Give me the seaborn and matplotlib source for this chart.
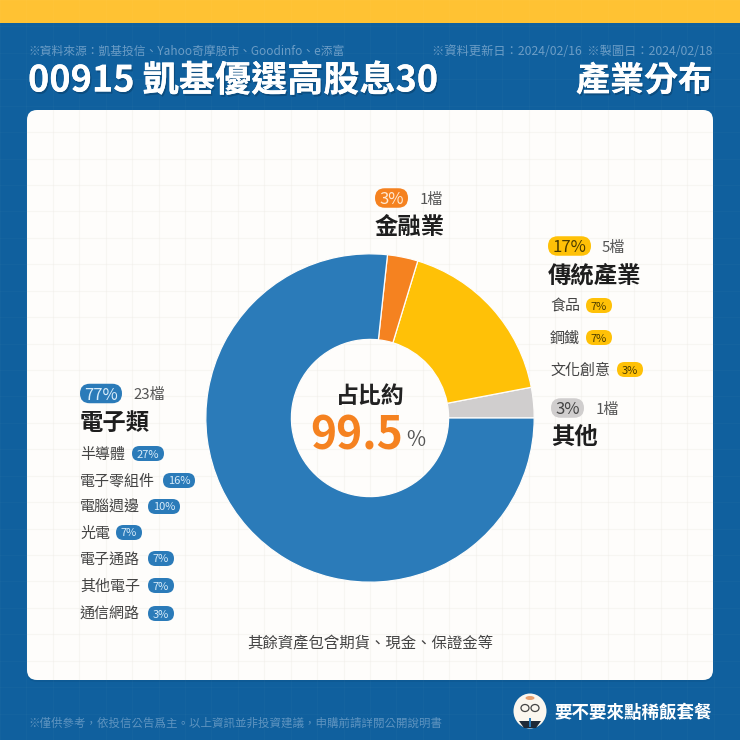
import matplotlib
matplotlib.use("Agg")
import matplotlib.patheffects as pe
import matplotlib.pyplot as plt
import numpy as np
import seaborn as sns
from matplotlib.patches import Ellipse, FancyBboxPatch, Polygon, Rectangle

# data
sectors = ["其他", "傳統產業", "金融業", "電子類"]
sector_values = [3, 17.3, 3, 76.7]
sector_colors = ["#D0CECE", "#FFC107", "#F58220", "#2B7BB9"]

electronics_names = ["半導體", "電子零組件", "電腦週邊", "光電", "電子通路", "其他電子", "通信網路"]
electronics_pcts = ["27%", "16%", "10%", "7%", "7%", "7%", "3%"]
traditional_names = ["食品", "鋼鐵", "文化創意"]
traditional_pcts = ["7%", "7%", "3%"]

source_text = "※資料來源：凱基投信、Yahoo奇摩股市、Goodinfo、e添富"
date_text = "※資料更新日：2024/02/16  ※製圖日：2024/02/18"
title_left = "00915 凱基優選高股息30"
title_right = "產業分布"
note_text = "其餘資產包含期貨、現金、保證金等"
footer_text = "※僅供參考，依投信公告爲主。以上資訊並非投資建議，申購前請詳閱公開說明書"
brand_text = "要不要來點稀飯套餐"

BLUE_BG = "#10609E"
YELLOW_TOP = "#FFC233"
CARD = "#FEFDFB"
GREY = "#555555"
FADED = "#6C9DC6"

sns.set_theme(style="white")
plt.rcParams["font.family"] = ["Noto Sans CJK TC", "DejaVu Sans"]

fig = plt.figure(figsize=(7.4, 7.4), dpi=100, facecolor=BLUE_BG)


def pixel_axes(zorder):
    ax = fig.add_axes([0, 0, 1, 1], zorder=zorder)
    ax.set_xlim(0, 740)
    ax.set_ylim(740, 0)
    ax.axis("off")
    return ax


def pill(ax, left, right, y, height, color):
    r = height / 2
    ax.add_patch(FancyBboxPatch((left + r, y), right - left - 2 * r, 0.001,
                                boxstyle=f"round,pad={r},rounding_size={r}", fc=color, ec="none"))


def head(ax, x, y, pct, count, title, color, pct_color, pill_right, count_x):
    pill(ax, x, pill_right, y, 19.5, color)
    ax.text((x + pill_right) / 2, y, pct, color=pct_color, fontsize=12, ha="center", va="center_baseline")
    ax.text(count_x, y, count, color=GREY, fontsize=10.8, ha="left", va="center_baseline")
    ax.text(x, y + 26.5, title, color="#1E1E1E", fontsize=16.8, fontweight="bold", ha="left", va="center_baseline")


def sub_row(ax, x, y, name, pct, pill_left, color, text_color):
    ax.text(x, y, name, color="#444444", fontsize=10.8, ha="left", va="center_baseline")
    width = 32 if len(pct) == 3 else 26
    pill(ax, pill_left, pill_left + width, y + 0.5, 15, color)
    ax.text(pill_left + width / 2, y + 0.5, pct, color=text_color, fontsize=8, ha="center", va="center_baseline")


# background and card
back = pixel_axes(0)
back.add_patch(Rectangle((0, 0), 740, 740, fc=BLUE_BG, ec="none"))
grid_steps = np.arange(0, 740, 26.43)
for step in grid_steps:
    back.plot([step, step], [0, 740], color="#FFFFFF", alpha=0.02, lw=0.8)
    back.plot([0, 740], [step, step], color="#FFFFFF", alpha=0.02, lw=0.8)
back.add_patch(Rectangle((0, 0), 740, 23, fc=YELLOW_TOP, ec="none"))
back.add_patch(FancyBboxPatch((37, 122), 666, 550, boxstyle="round,pad=10,rounding_size=10",
                              fc="#0B4F85", ec="none", alpha=0.35))
card = FancyBboxPatch((37, 120), 666, 550, boxstyle="round,pad=10,rounding_size=10", fc=CARD, ec="none")
back.add_patch(card)
for step in grid_steps:
    line_v = back.plot([step, step], [110, 680], color="#ECE9E4", alpha=0.35, lw=0.9)[0]
    line_h = back.plot([27, 713], [step, step], color="#ECE9E4", alpha=0.35, lw=0.9)[0]
    line_v.set_clip_path(card)
    line_h.set_clip_path(card)

# donut
pie_ax = fig.add_axes([205 / 740, 1 - 583 / 740, 330 / 740, 330 / 740], zorder=1)
pie_ax.pie(sector_values, colors=sns.color_palette(sector_colors), startangle=0, counterclock=True,
           wedgeprops=dict(width=86 / 165, edgecolor=CARD, linewidth=0.9), radius=1)
pie_ax.set_xlim(-1.005, 1.005)
pie_ax.set_ylim(-1.005, 1.005)

# all the text on top
ax = pixel_axes(2)
ax.text(28, 50, source_text, color=FADED, fontsize=8.5, ha="left", va="center_baseline")
ax.text(712, 50, date_text, color=FADED, fontsize=8.8, ha="right", va="center_baseline")

shadow = [pe.withSimplePatchShadow(offset=(1, -1.5), shadow_rgbFace="#08365C", alpha=0.45), pe.Normal()]
ax.text(28, 77, title_left, color="white", fontsize=26, fontweight="bold", ha="left", va="center_baseline",
        path_effects=shadow)
ax.text(712, 77, title_right, color="white", fontsize=24.5, fontweight="bold", ha="right", va="center_baseline",
        path_effects=shadow)

head(ax, 375, 198, "3%", "1檔", sectors[2], sector_colors[2], "#FFE9D2", 408, 420)
head(ax, 548, 246, "17%", "5檔", sectors[1], sector_colors[1], "#4A3B00", 591, 602)
head(ax, 551, 408, "3%", "1檔", sectors[0], sector_colors[0], "#444444", 584, 596)
head(ax, 80, 393.5, "77%", "23檔", sectors[3], sector_colors[3], "#D8ECFA", 122, 133)

traditional_y = [305, 337, 369]
traditional_left = [586, 586, 617]
for name, pct, y, left in zip(traditional_names, traditional_pcts, traditional_y, traditional_left):
    sub_row(ax, 550, y, name, pct, left, sector_colors[1], "#4A3B00")

electronics_y = [453, 480, 506, 532, 558, 585, 613]
electronics_left = [132, 163, 148, 116, 148, 148, 148]
for name, pct, y, left in zip(electronics_names, electronics_pcts, electronics_y, electronics_left):
    sub_row(ax, 80, y, name, pct, left, sector_colors[3], "#D8ECFA")

ax.text(370, 394, "占比約", color="#222222", fontsize=16.5, fontweight="bold", ha="center", va="center_baseline")
ax.text(403, 431, "99.5", color=sector_colors[2], fontsize=32, fontweight="bold", ha="right", va="center_baseline")
ax.text(406, 438, "%", color="#555555", fontsize=15, ha="left", va="center_baseline")

ax.text(370, 642, note_text, color="#444444", fontsize=11.1, ha="center", va="center_baseline")

ax.text(28, 722, footer_text, color=FADED, fontsize=8.25, ha="left", va="center_baseline", alpha=0.85)
ax.text(712, 711, brand_text, color="white", fontsize=12.6, fontweight="bold", ha="right", va="center_baseline")

# small mascot logo
ax.add_patch(Ellipse((530, 711), 33, 35, fc="#FBF7EF", ec="none"))
ax.add_patch(Polygon([[519, 721], [541, 721], [536, 728], [524, 728]], fc="#1F2A38", ec="none"))
ax.add_patch(Rectangle((529, 718), 2.2, 9, fc="#2B7BB9", ec="none"))
ax.add_patch(Ellipse((525, 708), 8, 7, fc="none", ec="#444444", lw=0.9))
ax.add_patch(Ellipse((535, 708), 8, 7, fc="none", ec="#444444", lw=0.9))
ax.add_patch(Ellipse((530, 698), 9, 4, fc="#E8A06E", ec="none"))

fig.savefig("out.png", dpi=100, facecolor=BLUE_BG)
